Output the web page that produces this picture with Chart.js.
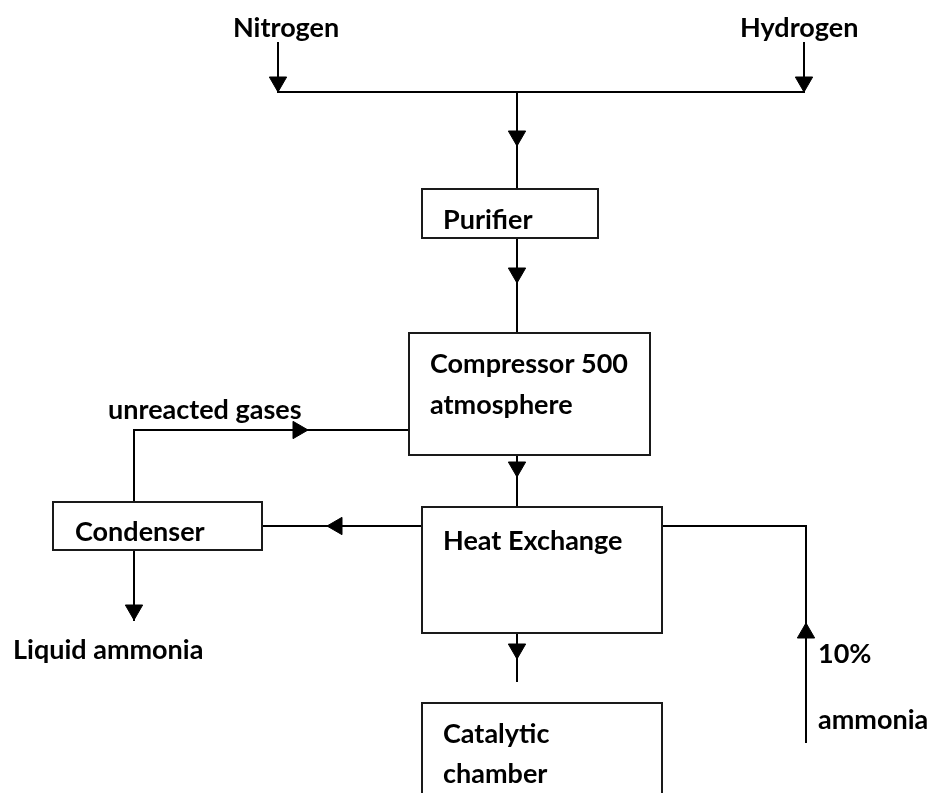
<!DOCTYPE html>
<html>
<head>
<meta charset="utf-8">
<script src="https://cdn.jsdelivr.net/npm/chart.js@4.4.1/dist/chart.umd.min.js"></script>
<style>
  html, body { margin: 0; padding: 0; background: #fff; }
  canvas { display: block; }
</style>
</head>
<body>
<canvas id="flow" width="935" height="798"></canvas>
<script>
// process boxes: [left, top, right, bottom]
const boxes = [
  [422, 189, 598, 238],   // purifier
  [409, 333, 650, 455],   // compressor
  [422, 507, 662, 633],   // heat exchange
  [53, 502, 262, 550]     // condenser
]
// catalytic chamber runs off the bottom of the page
const openBox = [[422, 792], [422, 703], [662, 703], [662, 792]]

// connecting pipes, each a polyline
const pipes = [
  [[278, 43], [278, 92]],
  [[804, 43], [804, 92]],
  [[278, 92], [804, 92]],
  [[517, 92], [517, 189]],
  [[517, 238], [517, 333]],
  [[134, 502], [134, 430], [409, 430]],
  [[517, 455], [517, 507]],
  [[422, 526], [262, 526]],
  [[662, 526], [806, 526], [806, 742]],
  [[134, 550], [134, 620]],
  [[517, 633], [517, 681]]
]

// arrow heads: tip x, tip y, direction
const arrows = [
  [278, 92, "down"],
  [804, 92, "down"],
  [517, 146, "down"],
  [517, 283, "down"],
  [517, 477, "down"],
  [517, 659, "down"],
  [308, 430, "right"],
  [327, 526, "left"],
  [134, 620, "down"],
  [806, 623, "up"]
]

// labels: text, left x, baseline y
const labels = [
  ["Nitrogen", 233, 37],
  ["Hydrogen", 740, 37],
  ["Purifier", 443, 229],
  ["Compressor 500", 430, 373],
  ["atmosphere", 430, 414],
  ["unreacted gases", 108, 419],
  ["Heat Exchange", 443, 550],
  ["Condenser", 75, 541],
  ["Liquid ammonia", 13, 659],
  ["10%", 818, 663],
  ["ammonia", 818, 729],
  ["Catalytic", 443, 743],
  ["chamber", 443, 783]
]

const headSize = 10
const dirs = { down: [0, 1, 180], up: [0, -1, 0], right: [1, 0, 90], left: [-1, 0, 270] }

function toPoints(line) {
  return line.map(p => ({ x: p[0], y: p[1] }))
}

let datasets = []
boxes.forEach(b => {
  datasets.push({ data: toPoints([[b[0], b[1]], [b[2], b[1]], [b[2], b[3]], [b[0], b[3]], [b[0], b[1]]]), borderColor: "#1a1a1a" })
})
datasets.push({ data: toPoints(openBox), borderColor: "#1a1a1a" })
pipes.forEach(p => {
  datasets.push({ data: toPoints(p), borderColor: "#000" })
})
datasets = datasets.map(d => Object.assign(d, { showLine: true, borderWidth: 2, pointRadius: 0, fill: false, borderCapStyle: "square" }))

// arrow heads as rotated triangle points, centred one radius behind the tip
datasets.push({
  data: arrows.map(a => ({ x: a[0] - dirs[a[2]][0] * headSize, y: a[1] - dirs[a[2]][1] * headSize })),
  showLine: false,
  pointStyle: "triangle",
  pointRadius: headSize,
  pointRotation: arrows.map(a => dirs[a[2]][2]),
  pointBackgroundColor: "#000",
  pointBorderColor: "#000",
  pointBorderWidth: 1
})

const labelPlugin = {
  id: "labels",
  afterDatasetsDraw(chart) {
    const ctx = chart.ctx
    const xs = chart.scales.x, ys = chart.scales.y
    ctx.save()
    ctx.fillStyle = "#000"
    ctx.font = "bold 27px Lato"
    ctx.textAlign = "left"
    ctx.textBaseline = "alphabetic"
    labels.forEach(l => {
      ctx.fillText(l[0], xs.getPixelForValue(l[1]), ys.getPixelForValue(l[2]))
    })
    ctx.restore()
  }
}

new Chart(document.getElementById("flow"), {
  type: "scatter",
  data: { datasets: datasets },
  options: {
    responsive: false,
    animation: false,
    devicePixelRatio: 1,
    layout: { padding: 0, autoPadding: false },
    plugins: { legend: { display: false }, tooltip: { enabled: false } },
    scales: {
      x: { type: "linear", min: 0, max: 935, display: false },
      y: { type: "linear", min: 0, max: 798, reverse: true, display: false }
    }
  },
  plugins: [labelPlugin]
})
</script>
</body>
</html>
